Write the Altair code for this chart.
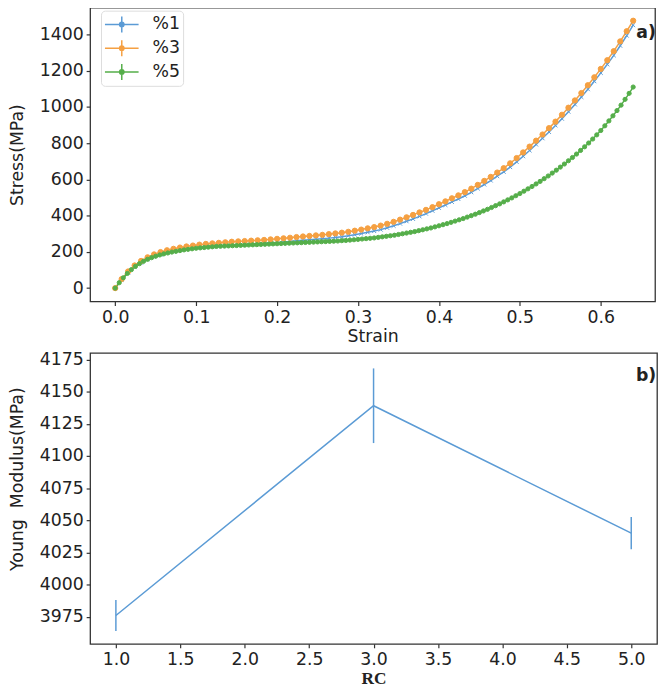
import altair as alt
import pandas as pd

# ---------------- data ----------------
series_names = ["%1", "%3", "%5"]
series_colors = ["#5b9bd5", "#f5a042", "#55ae4a"]
marker_sizes = [16, 28, 18]

strain_13 = [0.000, 0.008, 0.016, 0.024, 0.032, 0.040, 0.048, 0.056, 0.064, 0.072,
             0.080, 0.088, 0.096, 0.104, 0.112, 0.120, 0.128, 0.136, 0.144, 0.152,
             0.160, 0.168, 0.176, 0.184, 0.192, 0.200, 0.208, 0.216, 0.224, 0.232,
             0.240, 0.248, 0.256, 0.264, 0.272, 0.280, 0.288, 0.296, 0.304, 0.312,
             0.320, 0.328, 0.336, 0.344, 0.352, 0.360, 0.368, 0.376, 0.384, 0.392,
             0.400, 0.408, 0.416, 0.424, 0.432, 0.440, 0.448, 0.456, 0.464, 0.472,
             0.480, 0.488, 0.496, 0.504, 0.512, 0.520, 0.528, 0.536, 0.544, 0.552,
             0.560, 0.568, 0.576, 0.584, 0.592, 0.600, 0.608, 0.616, 0.624, 0.632,
             0.640]

stress_1 = [0, 46, 85, 116, 140, 159, 174, 186, 196, 204,
            210, 216, 221, 225, 228, 231, 234, 236, 238, 240,
            242, 244, 246, 248, 250, 252, 255, 258, 261, 264,
            267, 270, 273, 276, 280, 284, 289, 295, 301, 308,
            315, 323, 333, 344, 356, 369, 382, 396, 411, 427,
            443, 459, 476, 492, 510, 529, 550, 572, 594, 618,
            642, 668, 697, 728, 760, 793, 827, 862, 898, 935,
            974, 1014, 1055, 1098, 1142, 1188, 1235, 1285, 1338, 1394,
            1452]

stress_3 = [0, 50, 92, 125, 150, 170, 186, 199, 209, 217,
            224, 230, 235, 240, 244, 247, 250, 253, 256, 258,
            260, 262, 264, 266, 269, 272, 275, 278, 282, 285,
            288, 291, 294, 298, 302, 306, 311, 317, 323, 330,
            337, 345, 355, 366, 378, 391, 404, 418, 432, 447,
            463, 479, 496, 512, 530, 549, 570, 592, 614, 638,
            662, 689, 718, 749, 781, 814, 848, 883, 919, 957,
            996, 1036, 1077, 1120, 1164, 1210, 1258, 1308, 1362, 1418,
            1476]

strain_5 = [0.000, 0.005, 0.010, 0.015, 0.020, 0.025, 0.030, 0.035, 0.040, 0.045,
            0.050, 0.055, 0.060, 0.065, 0.070, 0.075, 0.080, 0.085, 0.090, 0.095,
            0.100, 0.105, 0.110, 0.115, 0.120, 0.125, 0.130, 0.135, 0.140, 0.145,
            0.150, 0.155, 0.160, 0.165, 0.170, 0.175, 0.180, 0.185, 0.190, 0.195,
            0.200, 0.205, 0.210, 0.215, 0.220, 0.225, 0.230, 0.235, 0.240, 0.245,
            0.250, 0.255, 0.260, 0.265, 0.270, 0.275, 0.280, 0.285, 0.290, 0.295,
            0.300, 0.305, 0.310, 0.315, 0.320, 0.325, 0.330, 0.335, 0.340, 0.345,
            0.350, 0.355, 0.360, 0.365, 0.370, 0.375, 0.380, 0.385, 0.390, 0.395,
            0.400, 0.405, 0.410, 0.415, 0.420, 0.425, 0.430, 0.435, 0.440, 0.445,
            0.450, 0.455, 0.460, 0.465, 0.470, 0.475, 0.480, 0.485, 0.490, 0.495,
            0.500, 0.505, 0.510, 0.515, 0.520, 0.525, 0.530, 0.535, 0.540, 0.545,
            0.550, 0.555, 0.560, 0.565, 0.570, 0.575, 0.580, 0.585, 0.590, 0.595,
            0.600, 0.605, 0.610, 0.615, 0.620, 0.625, 0.630, 0.635, 0.640]

stress_5 = [0, 30, 57, 81, 102, 120, 135, 148, 159, 168,
            176, 183, 189, 194, 199, 203, 207, 211, 214, 217,
            220, 222, 224, 226, 228, 230, 231, 232, 233, 234,
            235, 236, 237, 238, 239, 240, 241, 242, 243, 244,
            245, 246, 247, 248, 249, 250, 251, 252, 253, 254,
            255, 256, 257, 258, 259, 260, 262, 263, 265, 267,
            269, 271, 273, 275, 277, 280, 283, 286, 289, 292,
            296, 300, 304, 308, 312, 317, 322, 327, 332, 338,
            344, 350, 356, 363, 370, 377, 384, 392, 400, 408,
            417, 426, 435, 445, 455, 465, 476, 487, 498, 510,
            522, 535, 548, 561, 575, 589, 604, 619, 635, 651,
            668, 685, 703, 721, 740, 760, 780, 801, 823, 846,
            870, 896, 923, 951, 980, 1010, 1042, 1075, 1110]

strain_ticks = [0.0, 0.1, 0.2, 0.3, 0.4, 0.5, 0.6]
stress_ticks = [0, 200, 400, 600, 800, 1000, 1200, 1400]

rc_values = [1.0, 3.0, 5.0]
modulus = [3976, 4139, 4040]
modulus_err = [12, 29, 12.5]
rc_ticks = [1.0, 1.5, 2.0, 2.5, 3.0, 3.5, 4.0, 4.5, 5.0]
modulus_ticks = [3975, 4000, 4025, 4050, 4075, 4100, 4125, 4150, 4175]

# ---------------- tables ----------------
size_of = dict(zip(series_names, marker_sizes))
rows = []
for name, xs, ys, k in (("%1", strain_13, stress_1, 0),
                        ("%3", strain_13, stress_3, 1),
                        ("%5", strain_5, stress_5, 2)):
    for s, v in zip(xs, ys):
        rows.append({"strain": s, "stress": v, "series": name, "order": k,
                     "msize": size_of[name]})
curves = pd.DataFrame(rows)

young = pd.DataFrame({"rc": rc_values, "E": modulus, "err": modulus_err})
young["lo"] = young["E"] - young["err"]
young["hi"] = young["E"] + young["err"]

FONT = "DejaVu Sans"
TXT = "#222222"
FS = 17.5
cs = alt.Scale(domain=series_names, range=series_colors)

LEG_PATH = ("M-1.7,0L1.7,0M0,-0.8L0,0.8"
            "M0.22,0A0.22,0.22,0,1,1,-0.22,0A0.22,0.22,0,1,1,0.22,0Z")
X_PATH = "M-1,-1L1,1M-1,1L1,-1"
leg = alt.Legend(title=None, orient="none", legendX=11, legendY=3,
                 symbolType=LEG_PATH, symbolSize=400, symbolStrokeWidth=1.5,
                 symbolOffset=7, labelOffset=20, rowPadding=2, padding=3,
                 labelFontSize=FS, labelFont=FONT, labelColor=TXT,
                 fillColor="white", strokeColor="#dddddd", cornerRadius=4)

x_top = alt.X("strain:Q",
              scale=alt.Scale(domain=[-0.031, 0.667], nice=False, zero=False),
              axis=alt.Axis(values=strain_ticks, tickCount=len(strain_ticks),
                            format=".1f", title="Strain", titlePadding=2))
y_top = alt.Y("stress:Q",
              scale=alt.Scale(domain=[-74, 1548], nice=False, zero=False),
              axis=alt.Axis(values=stress_ticks, tickCount=len(stress_ticks),
                            format="d", title="Stress(MPa)",
                            minExtent=51, maxExtent=51, titlePadding=13))

base = alt.Chart(curves)
lines = base.mark_line(strokeWidth=1.5).encode(
    x=x_top, y=y_top,
    stroke=alt.Stroke("series:N", scale=cs, legend=leg),
    order="strain:Q",
)
blue_marks = base.transform_filter(alt.datum.series == "%1").mark_point(
    shape=X_PATH, filled=False, strokeWidth=1, opacity=1, color=series_colors[0]
).encode(x=x_top, y=y_top, size=alt.Size("msize:Q", scale=None, legend=None))
points = base.transform_filter(alt.datum.series != "%1").mark_point(
    filled=True, opacity=1, strokeWidth=1
).encode(
    x=x_top, y=y_top,
    fill=alt.Fill("series:N", scale=cs, legend=leg),
    stroke=alt.Stroke("series:N", scale=cs, legend=leg),
    size=alt.Size("msize:Q", scale=None, legend=None),
    order="order:Q",
)
label_a = alt.Chart(pd.DataFrame({"t": ["a)"]})).mark_text(
    font=FONT, fontSize=FS, fontWeight="bold", color=TXT, align="center", baseline="middle"
).encode(x=alt.value(562), y=alt.value(26), text="t:N")

top = alt.layer(lines, blue_marks, points, label_a).properties(width=571, height=297)

x_bot = alt.X("rc:Q", scale=alt.Scale(domain=[0.8, 5.2], nice=False, zero=False),
              axis=alt.Axis(values=rc_ticks, tickCount=len(rc_ticks), format=".1f",
                            title="RC", titleFont="Liberation Serif",
                            titleFontWeight="bold", titlePadding=2))
y_bot = alt.Y("E:Q", scale=alt.Scale(domain=[3954, 4180], nice=False, zero=False),
              axis=alt.Axis(values=modulus_ticks, tickCount=len(modulus_ticks),
                            format="d", labelOverlap=False,
                            title="Young\u00a0 Modulus(MPa)",
                            minExtent=51, maxExtent=51, titlePadding=13, titleY=127))

bline = alt.Chart(young).mark_line(color="#5b9bd5", strokeWidth=1.5).encode(x=x_bot, y=y_bot)
berr = alt.Chart(young).mark_rule(color="#5b9bd5", strokeWidth=1.5).encode(
    x="rc:Q", y="lo:Q", y2="hi:Q")
label_b = alt.Chart(pd.DataFrame({"t": ["b)"]})).mark_text(
    font=FONT, fontSize=FS, fontWeight="bold", color=TXT, align="center", baseline="middle"
).encode(x=alt.value(562), y=alt.value(23), text="t:N")

bottom = alt.layer(bline, berr, label_b).properties(width=573, height=294)

chart = alt.vconcat(
    top, bottom, spacing=3,
    padding={"left": 0, "top": -5, "right": 0, "bottom": 0},
).configure_view(
    stroke="#333333", strokeWidth=1.3
).configure_axis(
    domain=False, grid=False, tickColor="#333333", tickSize=4, tickWidth=1.2,
    labelPadding=3, labelFont=FONT, labelFontSize=FS, labelColor=TXT,
    titleFont=FONT, titleFontSize=FS, titleFontWeight="normal", titleColor=TXT,
    labelOverlap=False,
)

chart.save("out.html", embed_options={"renderer": "svg", "actions": False})
